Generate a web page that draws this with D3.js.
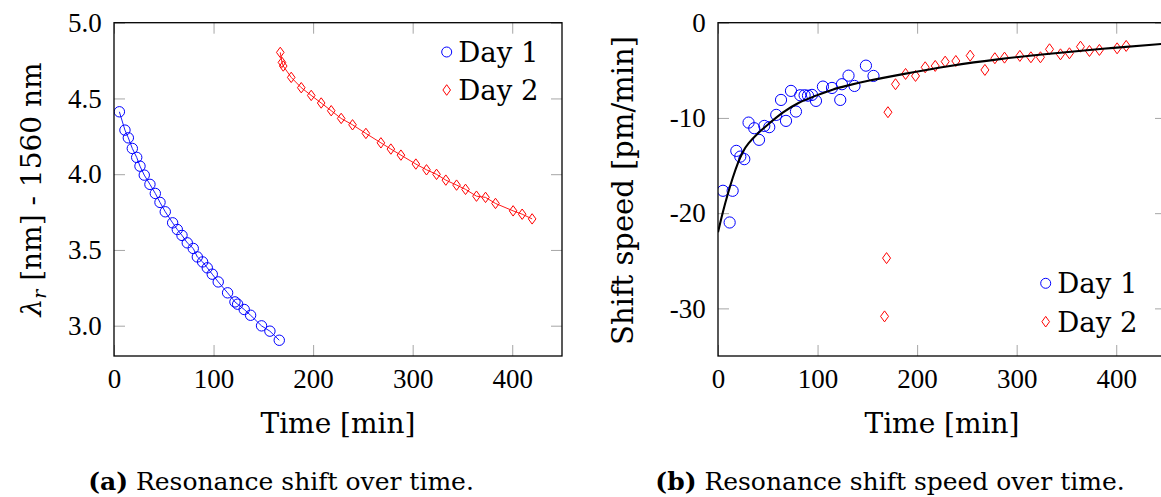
<!DOCTYPE html>
<html><head><meta charset="utf-8">
<script src="https://cdn.jsdelivr.net/npm/d3@7"></script>
<style>
html,body{margin:0;padding:0;background:#fff;}
svg{display:block;}
</style></head>
<body>
<svg id="c" width="1161" height="497"></svg>
<script>
// ---------- data ----------
const xTicks = [0, 100, 200, 300, 400];
const leftYTicks = [3.0, 3.5, 4.0, 4.5, 5.0];
const rightYTicks = [-30, -20, -10, 0];

// (a) resonance wavelength over time
const day1Time = [5.4, 11.0, 14.4, 18.4, 22.8, 26.1, 30.4, 36.1, 41.5, 46.2, 51.5, 58.9, 63.6, 68.3, 73.6, 79.6, 83.7, 89.0, 93.7, 98.7, 104.7, 114.1, 121.5, 124.2, 130.8, 137.2, 148.2, 156.6, 166.0];
const day1Lambda = [4.412, 4.291, 4.240, 4.170, 4.111, 4.053, 3.994, 3.933, 3.873, 3.814, 3.752, 3.679, 3.635, 3.596, 3.547, 3.510, 3.454, 3.421, 3.382, 3.340, 3.289, 3.217, 3.157, 3.142, 3.107, 3.069, 2.999, 2.964, 2.904];
const day2Time = [167.0, 168.7, 170.0, 178.0, 188.1, 198.1, 208.1, 218.2, 228.2, 239.6, 253.0, 268.1, 278.1, 288.2, 303.2, 313.9, 324.0, 333.3, 344.1, 353.1, 364.1, 373.2, 383.2, 400.9, 410.0, 420.0];
const day2Lambda = [4.804, 4.738, 4.714, 4.639, 4.571, 4.520, 4.470, 4.419, 4.368, 4.326, 4.269, 4.207, 4.166, 4.126, 4.067, 4.029, 3.999, 3.961, 3.928, 3.900, 3.855, 3.847, 3.807, 3.758, 3.736, 3.705];

// (b) shift speed over time
const day1SpeedTime = [5.0, 11.7, 14.7, 18.4, 22.4, 26.4, 30.7, 36.4, 41.2, 46.5, 51.5, 58.5, 63.3, 68.3, 73.3, 78.3, 82.6, 87.0, 90.4, 94.4, 98.4, 105.4, 114.5, 122.8, 124.5, 131.1, 137.1, 148.6, 156.2];
const day1Speed = [-17.65, -20.98, -17.65, -13.46, -14.06, -14.33, -10.49, -11.08, -12.30, -10.84, -10.97, -9.68, -8.11, -10.31, -7.16, -9.33, -7.62, -7.62, -7.66, -7.58, -8.21, -6.71, -6.85, -8.11, -6.46, -5.56, -6.64, -4.51, -5.59];
const day2SpeedTime = [170.7, 169.3, 167.3, 178.3, 188.4, 198.4, 208.1, 218.2, 228.2, 238.9, 253.3, 268.1, 278.1, 287.8, 303.2, 314.3, 323.9, 333.0, 344.0, 353.0, 364.1, 373.1, 383.1, 400.9, 410.0];
const day2Speed = [-9.40, -24.72, -30.84, -6.46, -5.38, -5.59, -4.68, -4.54, -4.09, -4.02, -3.46, -4.96, -3.73, -3.67, -3.49, -3.63, -3.63, -2.79, -3.32, -3.21, -2.52, -2.97, -2.86, -2.69, -2.44];

// fitted curve
const fitTime = [0, 5, 10, 15, 20, 25, 30, 40, 50, 65, 80, 100, 115, 130, 150, 183, 233, 283, 333, 384, 450];
const fitSpeed = [-22.0, -19.8, -17.9, -16.2, -14.7, -13.5, -12.7, -11.6, -10.7, -9.4, -8.4, -7.6, -7.0, -6.6, -6.1, -5.45, -4.5, -3.8, -3.25, -2.75, -2.2];

const legendLabels = ["Day 1", "Day 2"];

// ---------- drawing ----------
const svg = d3.select("#c");
const BLUE = "#0000ff", RED = "#ff0000";
const TICKFONT = "'Liberation Serif', 'Times New Roman', serif";
const LABFONT = "'DejaVu Serif', serif";
const yTop = 22.7, yBot = 356;
const hyphenInt = d => String(Math.round(d)).replace("\u2212", "-");

const diamond = (cx, cy, hw, hh) => `M${cx},${cy-hh}L${cx+hw},${cy}L${cx},${cy+hh}L${cx-hw},${cy}Z`;

function panel(opts) {
  const x = d3.scaleLinear().domain([0, 450]).range([opts.x0, opts.x1]);
  const y = d3.scaleLinear().domain(opts.yDomain).range([yBot, yTop]);
  const g = svg.append("g");
  const clipId = "clip" + opts.id;
  svg.append("clipPath").attr("id", clipId).append("rect")
    .attr("x", opts.x0).attr("y", yTop).attr("width", opts.x1 - opts.x0).attr("height", yBot - yTop);

  const styleAxis = (sel, labels) => {
    sel.attr("font-family", null).attr("font-size", null);
    sel.select(".domain").remove();
    sel.selectAll(".tick line").attr("stroke", "#a6a6a6").attr("stroke-width", 1);
    sel.selectAll(".tick text").attr("fill", "#000").style("font-family", TICKFONT).style("font-size", "27px");
    if (!labels) sel.selectAll(".tick text").remove();
  };
  g.append("g").attr("transform", `translate(0,${yBot})`)
    .call(d3.axisBottom(x).tickValues(xTicks).tickSize(-11).tickPadding(12.5).tickFormat(hyphenInt))
    .call(s => styleAxis(s, true));
  g.append("g").attr("transform", `translate(0,${yTop})`)
    .call(d3.axisTop(x).tickValues(xTicks).tickSize(-11))
    .call(s => styleAxis(s, false));
  g.append("g").attr("transform", `translate(${opts.x0},0)`)
    .call(d3.axisLeft(y).tickValues(opts.yTicks).tickSize(-11).tickPadding(12.3).tickFormat(opts.fmt))
    .call(s => styleAxis(s, true));
  g.append("g").attr("transform", `translate(${opts.x1},0)`)
    .call(d3.axisRight(y).tickValues(opts.yTicks).tickSize(-11))
    .call(s => styleAxis(s, false));

  const plot = g.append("g").attr("clip-path", `url(#${clipId})`);
  opts.draw(plot, x, y);

  g.append("rect").attr("x", opts.x0).attr("y", yTop).attr("width", opts.x1 - opts.x0).attr("height", yBot - yTop)
    .attr("fill", "none").attr("stroke", "#000").attr("stroke-width", 1.3);

  // x label
  g.append("text").attr("x", (opts.x0 + opts.x1) / 2).attr("y", 433).attr("text-anchor", "middle")
    .style("font-family", LABFONT).style("font-size", "28px").text("Time [min]");

  // legend
  opts.legend.forEach((L, i) => {
    const ly = L.y;
    if (L.shape === "circle") {
      g.append("circle").attr("cx", L.x).attr("cy", ly).attr("r", 5).attr("fill", "none").attr("stroke", L.color).attr("stroke-width", 1);
    } else {
      g.append("path").attr("d", diamond(L.x, ly, 3.8, 5.3)).attr("fill", "none").attr("stroke", L.color).attr("stroke-width", 1);
    }
    g.append("text").attr("x", L.x + 11.5).attr("y", ly).attr("dy", "0.36em")
      .style("font-family", LABFONT).style("font-size", "27.5px").text(legendLabels[i]);
  });
  return {x, y, g};
}

const lineGen = (x, y) => d3.line().x(d => x(d[0])).y(d => y(d[1]));

// ---- panel (a)
panel({
  id: "a", x0: 114, x1: 562, yDomain: [2.8, 5.0], yTicks: leftYTicks, fmt: d3.format(".1f"),
  legend: [{x: 446.7, y: 52, shape: "circle", color: BLUE}, {x: 446.7, y: 90, shape: "diamond", color: RED}],
  draw: (p, x, y) => {
    const d1 = day1Time.map((t, i) => [t, day1Lambda[i]]);
    const d2 = day2Time.map((t, i) => [t, day2Lambda[i]]);
    p.append("path").attr("d", lineGen(x, y)(d1)).attr("fill", "none").attr("stroke", BLUE).attr("stroke-width", 0.9);
    p.append("path").attr("d", lineGen(x, y)(d2)).attr("fill", "none").attr("stroke", RED).attr("stroke-width", 0.9);
    p.selectAll(".c1").data(d1).join("circle").attr("cx", d => x(d[0])).attr("cy", d => y(d[1])).attr("r", 5.2)
      .attr("fill", "none").attr("stroke", BLUE).attr("stroke-width", 1);
    p.selectAll(".d2").data(d2).join("path").attr("d", d => diamond(x(d[0]), y(d[1]), 3.8, 5.2))
      .attr("fill", "none").attr("stroke", RED).attr("stroke-width", 1);
  }
});

// ---- panel (b)
panel({
  id: "b", x0: 718, x1: 1166, yDomain: [-35, 0], yTicks: rightYTicks, fmt: hyphenInt,
  legend: [{x: 1045.7, y: 283.3, shape: "circle", color: BLUE}, {x: 1045.7, y: 321.7, shape: "diamond", color: RED}],
  draw: (p, x, y) => {
    const d1 = day1SpeedTime.map((t, i) => [t, day1Speed[i]]);
    const d2 = day2SpeedTime.map((t, i) => [t, day2Speed[i]]);
    const fit = fitTime.map((t, i) => [t, fitSpeed[i]]);
    p.selectAll(".c1").data(d1).join("circle").attr("cx", d => x(d[0])).attr("cy", d => y(d[1])).attr("r", 5.6)
      .attr("fill", "none").attr("stroke", BLUE).attr("stroke-width", 1);
    p.selectAll(".d2").data(d2).join("path").attr("d", d => diamond(x(d[0]), y(d[1]), 4, 5.5))
      .attr("fill", "none").attr("stroke", RED).attr("stroke-width", 1);
    p.append("path").attr("d", d3.line().curve(d3.curveBasis).x(d => x(d[0])).y(d => y(d[1]))(fit))
      .attr("fill", "none").attr("stroke", "#000").attr("stroke-width", 2.1);
  }
});

// y labels
const yl = svg.append("text").attr("transform", "translate(41,189.5) rotate(-90)").attr("text-anchor", "middle")
  .style("font-family", LABFONT).style("font-size", "28px");
yl.append("tspan").style("font-style", "italic").text("λ");
yl.append("tspan").style("font-style", "italic").style("font-size", "19px").attr("dy", "5").text("r");
yl.append("tspan").attr("dy", "-5").text(" [nm] - 1560 nm");

svg.append("text").attr("transform", "translate(633,190.5) rotate(-90)").attr("text-anchor", "middle")
  .style("font-family", LABFONT).style("font-size", "29px").text("Shift speed [pm/min]");

// captions
const capA = svg.append("text").attr("x", 281).attr("y", 490).attr("text-anchor", "middle")
  .style("font-family", LABFONT).style("font-size", "25px");
capA.append("tspan").style("font-weight", "bold").text("(a)");
capA.append("tspan").text(" Resonance shift over time.");

const capB = svg.append("text").attr("x", 890).attr("y", 490).attr("text-anchor", "middle")
  .style("font-family", LABFONT).style("font-size", "25px");
capB.append("tspan").style("font-weight", "bold").text("(b)");
capB.append("tspan").text(" Resonance shift speed over time.");
</script>
</body></html>
